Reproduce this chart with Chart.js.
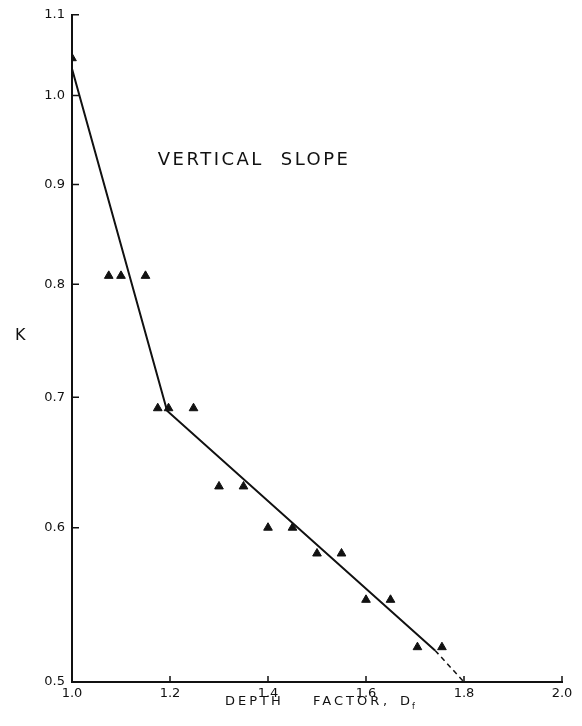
<!DOCTYPE html>
<html>
<head>
<meta charset="utf-8">
<script src="https://cdn.jsdelivr.net/npm/chart.js@4/dist/chart.umd.min.js"></script>
<style>
  html, body { margin: 0; padding: 0; background: #fff; }
  #wrap { width: 582px; height: 726px; }
</style>
</head>
<body>
<div id="wrap"><canvas id="chart" width="582" height="726"></canvas></div>
<script>
// measured points (depth factor vs K)
const depthFactor = [1.0, 1.075, 1.10, 1.15, 1.175, 1.197, 1.248, 1.30, 1.35, 1.40, 1.45, 1.50, 1.55, 1.60, 1.65, 1.705, 1.755];
const kValues     = [1.045, 0.808, 0.808, 0.808, 0.691, 0.691, 0.691, 0.630, 0.630, 0.600, 0.600, 0.582, 0.582, 0.551, 0.551, 0.521, 0.521];

// fitted line: two solid segments, then dashed extension
const fitX = [1.0, 1.194, 1.741];
const fitK = [1.032, 0.689, 0.519];
const extX = [1.741, 1.80];
const extK = [0.519, 0.50];

const xTicks = [1.0, 1.2, 1.4, 1.6, 1.8, 2.0];
const yTicks = [0.5, 0.6, 0.7, 0.8, 0.9, 1.0, 1.1];

const FONT = '"DejaVu Sans", sans-serif';

const toPts = (xs, ys) => xs.map((x, i) => ({ x: x, y: ys[i] }));

// inward tick marks + free text (K, title, x axis title)
const extras = {
    id: 'extras',
    afterDraw(chart) {
        const ctx = chart.ctx;
        const xs = chart.scales.x;
        const ys = chart.scales.y;
        const area = chart.chartArea;
        ctx.save();
        ctx.strokeStyle = '#111';
        ctx.lineWidth = 1.5;
        ctx.beginPath();
        yTicks.forEach(v => {
            const py = ys.getPixelForValue(v);
            ctx.moveTo(area.left, py);
            ctx.lineTo(area.left + 7, py);
        });
        xTicks.forEach(v => {
            const px = xs.getPixelForValue(v);
            ctx.moveTo(px, area.bottom);
            ctx.lineTo(px, area.bottom - 6);
        });
        ctx.stroke();

        ctx.fillStyle = '#111';
        ctx.textBaseline = 'middle';
        ctx.textAlign = 'left';

        // K label
        ctx.font = '16px ' + FONT;
        ctx.fillText('K', 15, 336);

        // annotation
        ctx.font = '18px ' + FONT;
        ctx.letterSpacing = '2.5px';
        ctx.fillText('VERTICAL', xs.getPixelForValue(1.175), ys.getPixelForValue(0.926));
        ctx.fillText('SLOPE', xs.getPixelForValue(1.426), ys.getPixelForValue(0.926));

        // x axis title with subscript
        ctx.font = '13px ' + FONT;
        ctx.letterSpacing = '3px';
        const ty = 702;
        ctx.fillText('DEPTH', 225, ty);
        ctx.fillText('FACTOR', 313, ty);
        ctx.fillText(',', 383, ty);
        ctx.fillText('D', 400, ty);
        ctx.font = '8px ' + FONT;
        ctx.letterSpacing = '0px';
        ctx.fillText('f', 412, ty + 5);
        ctx.restore();
    }
};

new Chart(document.getElementById('chart'), {
    type: 'scatter',
    data: {
        datasets: [
            {
                label: 'data',
                data: toPts(depthFactor, kValues),
                pointStyle: 'triangle',
                pointRadius: 5,
                backgroundColor: '#111',
                borderColor: '#111',
                borderWidth: 1,
                showLine: false,
            },
            {
                label: 'fit',
                data: toPts(fitX, fitK),
                showLine: true,
                borderColor: '#111',
                borderWidth: 2,
                pointRadius: 0,
                fill: false,
            },
            {
                label: 'extension',
                data: toPts(extX, extK),
                showLine: true,
                borderColor: '#111',
                borderWidth: 1.5,
                borderDash: [5, 4],
                pointRadius: 0,
                fill: false,
            },
        ],
    },
    options: {
        responsive: false,
        animation: false,
        layout: { padding: { top: 14, right: 20, left: 0, bottom: 0 } },
        plugins: {
            legend: { display: false },
            tooltip: { enabled: false },
        },
        scales: {
            x: {
                type: 'linear',
                min: 1.0,
                max: 2.0,
                afterBuildTicks: scale => { scale.ticks = xTicks.map(v => ({ value: v })); },
                afterFit: scale => { scale.height = 44; },
                border: { color: '#111', width: 2 },
                grid: { drawOnChartArea: false, drawTicks: false },
                ticks: {
                    padding: 4,
                    color: '#111',
                    font: { family: FONT, size: 13 },
                    callback: v => v.toFixed(1),
                },
            },
            y: {
                type: 'logarithmic',
                min: 0.5,
                max: 1.1,
                afterBuildTicks: scale => { scale.ticks = yTicks.map(v => ({ value: v })); },
                afterFit: scale => { scale.width = 72; },
                border: { color: '#111', width: 2 },
                grid: { drawOnChartArea: false, drawTicks: false },
                ticks: {
                    padding: 7,
                    color: '#111',
                    font: { family: FONT, size: 13 },
                    callback: v => Number(v).toFixed(1),
                },
            },
        },
    },
    plugins: [extras],
});
</script>
</body>
</html>
